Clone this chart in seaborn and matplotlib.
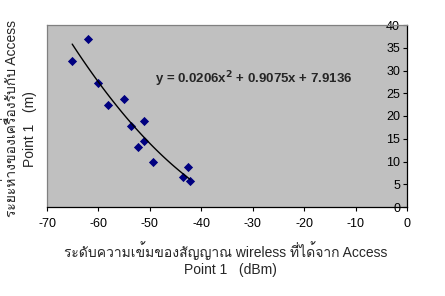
import matplotlib
matplotlib.use("Agg")
import matplotlib.pyplot as plt
from matplotlib import font_manager, ft2font
import seaborn as sns
import pandas as pd

# Data
signal_dbm = [-65.1, -62.0, -60.1, -58.2, -55.0, -53.7, -51.1, -52.4, -51.1, -49.3, -43.6, -42.6, -42.2]
distance_m = [32.1, 36.9, 27.3, 22.4, 23.8, 17.8, 19.0, 13.2, 14.5, 10.0, 6.6, 8.7, 5.7]
x_ticks = [-70, -60, -50, -40, -30, -20, -10, 0]
y_ticks = [0, 5, 10, 15, 20, 25, 30, 35, 40]
equation = r"y = 0.0206x$^{\mathbf{2}}$ + 0.9075x + 7.9136"
x_label_lines = ["ระดับความเข้มของสัญญาณ wireless ที่ได้จาก Access", "Point 1   (dBm)"]
y_label_lines = ["ระยะห่างของเครื่องรับกับ Access", "Point 1   (m)"]

df = pd.DataFrame({"signal": signal_dbm, "distance": distance_m})

sns.set_theme(style="white")

# find a font with Thai glyphs
thai_font = None
for f in font_manager.fontManager.ttflist:
    try:
        cm = ft2font.FT2Font(f.fname).get_charmap()
        if 0x0E23 in cm and 0x0E31 in cm:
            thai_font = f.name
            break
    except Exception:
        pass
families = ([thai_font] if thai_font else []) + ["DejaVu Sans"]
plt.rcParams["font.family"] = ["Liberation Sans"] + families

fig = plt.figure(figsize=(4.45, 2.96), dpi=100)
ax = fig.add_axes([47 / 445, (296 - 207) / 296, 360 / 445, 182 / 296])
ax.set_facecolor("#C0C0C0")

sns.regplot(data=df, x="signal", y="distance", order=2, ci=None, ax=ax,
            marker="D",
            scatter_kws=dict(color="#000080", s=22, linewidths=0, alpha=1),
            line_kws=dict(color="black", linewidth=1.0))

ax.set_xlim(-70, 0)
ax.set_ylim(0, 40)
ax.set_xticks(x_ticks)
ax.set_yticks(y_ticks)
ax.set_xlabel("")
ax.set_ylabel("")

ax.spines["left"].set_position(("data", 0))
ax.spines["left"].set_color("black")
ax.spines["left"].set_linewidth(0.9)
ax.spines["bottom"].set_color("black")
ax.spines["bottom"].set_linewidth(0.9)
ax.spines["right"].set_position(("data", -70))
ax.spines["right"].set_color("#808080")
ax.spines["top"].set_color("#808080")
for s in ["right", "top"]:
    ax.spines[s].set_linewidth(0.9)

ax.tick_params(axis="both", which="both", direction="out", length=3, width=0.8,
               color="black", labelsize=9, labelcolor="black")
ax.tick_params(axis="x", bottom=True, pad=5)
ax.tick_params(axis="y", left=True, pad=2)
ax.set_xticklabels([str(t) for t in x_ticks])

ax.text(-49.0, 28.1, equation, fontsize=9.5, fontweight="bold", va="center", ha="left")

# x label (two lines)
fig.text(226 / 445, 1 - 251 / 296, x_label_lines[0], ha="center", va="center", fontsize=10)
fig.text(230 / 445, 1 - 270 / 296, x_label_lines[1], ha="center", va="center", fontsize=10)
# y label (two lines, rotated)
fig.text(12 / 445, 1 - 119 / 296, y_label_lines[0], ha="center", va="center",
         rotation=90, fontsize=10)
fig.text(30 / 445, 1 - 129 / 296, y_label_lines[1], ha="center", va="center",
         rotation=90, fontsize=10)

fig.savefig("out.png", dpi=100, facecolor="white")
